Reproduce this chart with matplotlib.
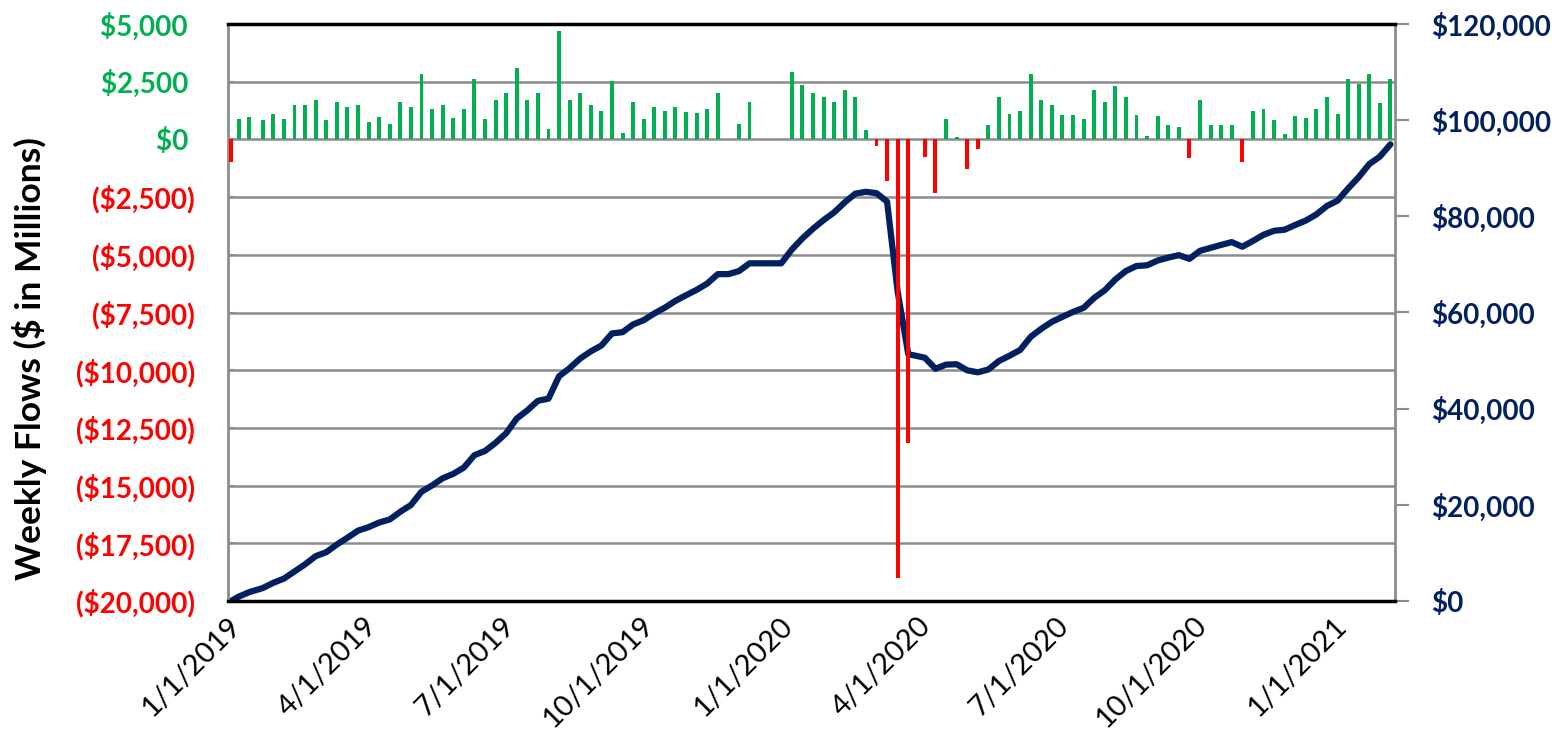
import matplotlib.pyplot as plt
import numpy as np
import pandas as pd

plt.rcParams["font.family"] = ["Lato", "DejaVu Sans"]

# weekly report dates (a few irregular weeks at the start, a shift in April 2020)
week_dates = (
    pd.DatetimeIndex(["2019-01-03", "2019-01-08", "2019-01-15"])
    .append(pd.date_range("2019-01-24", periods=62, freq="7D"))
    .append(pd.date_range("2020-04-06", periods=45, freq="7D"))
)

# weekly flows, $ millions
weekly_flows = [
    -963, 905, 963, 862, 1121, 877, 1509, 1509, 1724, 833,
    1624, 1422, 1509, 733, 977, 647, 1624, 1422, 2816, 1322,
    1509, 934, 1322, 2630, 877, 1724, 2026, 3104, 1724, 2026,
    460, 4713, 1724, 2026, 1509, 1236, 2543, 273, 1638, 905,
    1408, 1236, 1422, 1193, 1135, 1322, 1997, 0, 647, 1638,
    0, 0, 0, 2917, 2357, 2026, 1825, 1638, 2127, 1825,
    388, -287, -1807, -19020, -13160, -767, -2327, 891, 86, -1300,
    -433, 604, 1825, 1121, 1236, 2816, 1724, 1494, 1078, 1049,
    877, 2127, 1638, 2313, 1825, 1063, 158, 1020, 632, 517,
    -790, 1724, 632, 632, 604, -992, 1236, 1322, 862, 230,
    1020, 934, 1322, 1825, 1121, 2630, 2414, 2816, 1595, 2630,
]

# cumulative flows, $ millions
cumulative_flows = [
    0, 890, 1840, 2690, 3790, 4660, 6140, 7630, 9330, 10150,
    11750, 13150, 14630, 15360, 16320, 16960, 18560, 19960, 22730, 24030,
    25520, 26440, 27740, 30330, 31200, 32890, 34890, 37950, 39640, 41640,
    42090, 46740, 48430, 50430, 51920, 53130, 55640, 55910, 57520, 58410,
    59800, 61010, 62420, 63590, 64710, 66010, 67980, 67980, 68610, 70230,
    70230, 70230, 70230, 73100, 75420, 77420, 79220, 80830, 82920, 84720,
    85100, 84820, 83040, 64310, 51340, 50590, 48300, 49160, 49240, 47980,
    47560, 48150, 49920, 51010, 52200, 54940, 56610, 58060, 59100, 60120,
    60970, 63040, 64620, 66870, 68640, 69670, 69820, 70810, 71420, 71930,
    71160, 72830, 73440, 74060, 74640, 73680, 74880, 76160, 77000, 77220,
    78210, 79120, 80400, 82170, 83260, 85810, 88150, 90880, 92430, 94980,
]

tick_dates = pd.to_datetime([
    "2019-01-01", "2019-04-01", "2019-07-01", "2019-10-01", "2020-01-01",
    "2020-04-01", "2020-07-01", "2020-10-01", "2021-01-01",
])
tick_labels = [
    "1/1/2019", "4/1/2019", "7/1/2019", "10/1/2019", "1/1/2020",
    "4/1/2020", "7/1/2020", "10/1/2020", "1/1/2021",
]

flow_ticks = list(range(-20000, 5001, 2500))
total_ticks = list(range(0, 120001, 20000))

GREEN = "#00B050"
RED = "#FF0000"
NAVY = "#002060"
GRID = "#8c8c8c"


def money(v):
    return f"${v:,.0f} " if v >= 0 else f"(${-v:,.0f})"


fig = plt.figure(figsize=(15.6, 7.4), dpi=100)
ax = fig.add_axes([228 / 1560, 139 / 740, 1167 / 1560, 577 / 740])

# bottom layer: grid and left axis
ax.set_ylim(-20000, 5000)
ax.set_yticks(flow_ticks, [money(v) for v in flow_ticks])
for label, v in zip(ax.get_yticklabels(), flow_ticks):
    label.set_color(GREEN if v >= 0 else RED)
    label.set_fontweight("bold")
ax.tick_params(axis="y", direction="in", length=5, width=1.5, color=GRID,
               labelsize=20, pad=24)
ax.grid(axis="y", color=GRID, linewidth=1.8)
for spine in ax.spines.values():
    spine.set_visible(False)

ax.set_xlim(pd.Timestamp("2019-01-01"), pd.Timestamp("2021-02-11"))
ax.set_xticks(tick_dates, tick_labels)
ax.tick_params(axis="x", length=0, pad=8, labelsize=21)
for label in ax.get_xticklabels():
    label.set_rotation(45)
    label.set_ha("right")
    label.set_rotation_mode("anchor")

# middle layer: cumulative line on the right axis
ax_line = ax.twinx()
ax_line.plot(week_dates, cumulative_flows, color=NAVY, linewidth=4.5,
             solid_capstyle="round", solid_joinstyle="round")
ax_line.set_ylim(0, 120000)
ax_line.set_yticks(total_ticks, [f"${v:,.0f}" for v in total_ticks])
for label in ax_line.get_yticklabels():
    label.set_color(NAVY)
    label.set_fontweight("bold")
ax_line.tick_params(axis="y", direction="out", length=10, width=1.5,
                    color=GRID, labelsize=20, pad=16)
ax_line.spines["top"].set_color("black")
ax_line.spines["top"].set_linewidth(2.5)
ax_line.spines["bottom"].set_color("black")
ax_line.spines["bottom"].set_linewidth(2.5)
ax_line.spines["left"].set_color(GRID)
ax_line.spines["left"].set_linewidth(2)
ax_line.spines["right"].set_color(GRID)
ax_line.spines["right"].set_linewidth(2)

# top layer: weekly flow bars on the left scale
ax_bar = ax.twinx()
colors = [GREEN if v >= 0 else RED for v in weekly_flows]
ax_bar.bar(week_dates, weekly_flows, width=2.6, color=colors)
ax_bar.set_ylim(-20000, 5000)
ax_bar.axis("off")

fig.text(30 / 1560, 1 - 359 / 740, "Weekly Flows ($ in Millions)",
         rotation=90, ha="center", va="center", fontsize=25.5,
         fontweight="bold", color="black")

fig.savefig("out.png", dpi=100)
